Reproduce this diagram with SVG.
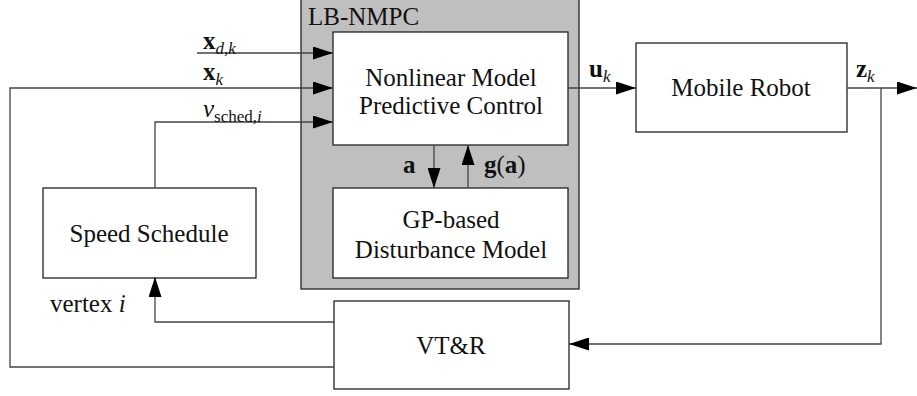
<svg xmlns="http://www.w3.org/2000/svg" width="917" height="396" viewBox="0 0 917 396" font-family="'Liberation Serif', 'DejaVu Serif', serif">
  <defs>
    <marker id="arrow" markerUnits="userSpaceOnUse" markerWidth="20" markerHeight="13" refX="20" refY="6.5" orient="auto">
      <path d="M0,0 L20,6.5 L0,13 z" fill="#000"/>
    </marker>
    <style>
      .box { fill: #fff; stroke: #222; stroke-width: 1.3; }
      .group { fill: #bfbfbf; stroke: #222; stroke-width: 1.3; }
      .wire { fill: none; stroke: #444; stroke-width: 1.3; }
      .arr { marker-end: url(#arrow); }
      text { font-family: 'Liberation Serif', 'DejaVu Serif', serif; fill: #111; }
      .lbl { font-size: 25px; text-anchor: middle; }
      .math { font-size: 25px; }
      .bf { font-weight: bold; }
      .it { font-style: italic; }
      .sub { font-size: 17px; }
    </style>
  </defs>

  <!-- learning-based NMPC container -->
  <g id="lb-nmpc">
    <rect class="group" x="301" y="-2" width="278" height="291"/>
    <text x="308" y="25" style="font-size:25px">LB-NMPC</text>
  </g>

  <g id="nmpc">
    <rect class="box" x="333" y="32" width="235" height="113"/>
    <text class="lbl" x="451" y="86">Nonlinear Model</text>
    <text class="lbl" x="451" y="114">Predictive Control</text>
  </g>

  <g id="gp-model">
    <rect class="box" x="333" y="188" width="235" height="90"/>
    <text class="lbl" x="451" y="228">GP-based</text>
    <text class="lbl" x="451" y="258">Disturbance Model</text>
  </g>

  <g id="mobile-robot">
    <rect class="box" x="636" y="43" width="211" height="89"/>
    <text class="lbl" x="741" y="96">Mobile Robot</text>
  </g>

  <g id="speed-schedule">
    <rect class="box" x="43" y="188" width="213" height="90"/>
    <text class="lbl" x="149" y="242">Speed Schedule</text>
  </g>

  <g id="vtr">
    <rect class="box" x="334" y="301" width="235" height="88"/>
    <text class="lbl" x="451" y="354">VT&amp;R</text>
  </g>

  <!-- signal lines -->
  <g id="connectors">
    <path class="wire arr" d="M197,53 H333"/>
    <path class="wire arr" d="M334,367 H10 V88 H333"/>
    <path class="wire arr" d="M155,188 V122 H333"/>
    <path class="wire arr" d="M434,145 V188"/>
    <path class="wire arr" d="M468,188 V145"/>
    <path class="wire arr" d="M568,88 H636"/>
    <path class="wire arr" d="M847,88 H917"/>
    <path class="wire arr" d="M881,88 V344 H569"/>
    <path class="wire arr" d="M334,322 H155 V277"/>
  </g>

  <!-- signal labels -->
  <g id="labels">
    <text class="math" x="203" y="49"><tspan class="bf">x</tspan><tspan class="sub it" dy="5">d,k</tspan></text>
    <text class="math" x="203" y="80"><tspan class="bf">x</tspan><tspan class="sub it" dy="5">k</tspan></text>
    <text class="math" x="203" y="117"><tspan class="it">v</tspan><tspan class="sub" dy="5">sched,</tspan><tspan class="sub it">i</tspan></text>
    <text class="math" x="589" y="77"><tspan class="bf">u</tspan><tspan class="sub it" dy="5">k</tspan></text>
    <text class="math" x="856" y="77"><tspan class="bf">z</tspan><tspan class="sub it" dy="5">k</tspan></text>
    <text class="math bf" x="403" y="173">a</text>
    <text class="math" x="484" y="173"><tspan class="bf">g</tspan>(<tspan class="bf">a</tspan>)</text>
    <text class="math" x="50" y="312">vertex <tspan class="it">i</tspan></text>
  </g>
</svg>
